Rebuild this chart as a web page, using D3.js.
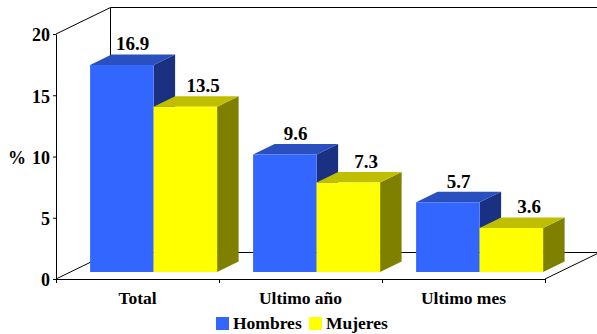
<!DOCTYPE html>
<html>
<head>
<meta charset="utf-8">
<script src="https://cdn.jsdelivr.net/npm/d3@7"></script>
<style>
  html, body { margin: 0; padding: 0; background: #fff; overflow: hidden; }
  svg { display: block; }
  svg text { font-family: "Liberation Serif", "Times New Roman", serif; font-weight: bold; fill: #000; }
</style>
</head>
<body>
<div id="chart"></div>
<script>
var width = 597,
    height = 334;

// Prevalence by period
var categories = ["Total", "Ultimo año", "Ultimo mes"];
var seriesNames = ["Hombres", "Mujeres"];
var hombres = [16.9, 9.6, 5.7];
var mujeres = [13.5, 7.3, 3.6];
var yTicks = [0, 5, 10, 15, 20];

var seriesValues = [hombres, mujeres];

var frontColor = ["#3366ff", "#ffff00"],
    topColor = ["#2a50c0", "#bfbf00"],
    sideColor = ["#1a3080", "#808000"];

// Floor and wall depth of the fake 3d box
var wallDx = 54.5, wallDy = -26.5;
// Bars sit part way into the box and have their own depth
var barShiftX = 14.1, barShiftY = -7;
var barDx = 21.5, barDy = -10.5;

var y = d3.scaleLinear().domain([0, 20]).range([279, 34]);
var x = d3.scaleBand().domain(categories).range([56, 545]);
var xEdges = d3.scaleLinear().domain([0, categories.length]).range([56, 545]);
var xSeries = d3.scaleBand().domain([0, 1]).range([20, 147]);

var svg = d3.select("#chart").append("svg")
    .attr("width", width)
    .attr("height", height);

/*
-----------------BOX-----------------
*/

var wallLine = d3.line();
var x0 = x.range()[0], x1 = x.range()[1];

var boxLines = [
  [[x0, y(20)], [x0 + wallDx, y(20) + wallDy], [x1 + wallDx, y(20) + wallDy]],
  [[x0 + wallDx, y(20) + wallDy], [x0 + wallDx, y(0) + wallDy], [x1 + wallDx, y(0) + wallDy]],
  [[x0, y(0)], [x0 + wallDx, y(0) + wallDy]],
  [[x1, y(0)], [x1 + wallDx, y(0) + wallDy]]
];

svg.append("g").selectAll("path")
    .data(boxLines)
  .enter().append("path")
    .attr("d", wallLine)
    .attr("fill", "none")
    .attr("stroke", "#000")
    .attr("stroke-width", 1);

/*
-----------------BARS-----------------
*/

var bars = [];
categories.forEach(function(c, i) {
  seriesValues.forEach(function(values, s) {
    bars.push({category: c, series: s, value: values[i]});
  });
});

var polyLine = d3.line();

function face(pts) { return polyLine(pts) + "Z"; }

var barGroups = svg.append("g").selectAll("g")
    .data(bars)
  .enter().append("g");

barGroups.each(function(d) {
  var left = x(d.category) + xSeries(d.series) + barShiftX,
      right = left + xSeries.bandwidth(),
      top = y(d.value) + barShiftY,
      bottom = y(0) + barShiftY;
  var g = d3.select(this);

  g.append("path")
      .attr("d", face([[right, top], [right + barDx, top + barDy], [right + barDx, bottom + barDy], [right, bottom]]))
      .attr("fill", sideColor[d.series]);
  g.append("path")
      .attr("d", face([[left, top], [left + barDx, top + barDy], [right + barDx, top + barDy], [right, top]]))
      .attr("fill", topColor[d.series]);
  g.append("path")
      .attr("d", face([[left, top], [right, top], [right, bottom], [left, bottom]]))
      .attr("fill", frontColor[d.series]);
});

// Value labels over the top faces, yellow ones pushed a bit to the right
barGroups.append("text")
    .attr("x", function(d) {
      return x(d.category) + xSeries(d.series) + barShiftX + xSeries.bandwidth() / 2 + barDx / 2 + (d.series == 1 ? 7 : 0);
    })
    .attr("y", function(d) { return y(d.value) + barShiftY + barDy - 4; })
    .attr("text-anchor", "middle")
    .style("font-size", "19px")
    .text(function(d) { return d.value.toFixed(1); });

/*
-----------------AXES-----------------
*/

var yAxis = svg.append("g")
    .attr("transform", "translate(" + x0 + ",0)")
    .call(d3.axisLeft(y).tickValues(yTicks).tickSize(3).tickPadding(3).tickSizeOuter(0));

yAxis.selectAll("text")
    .style("font-size", "18px")
    .attr("dy", "0.38em");

var xTicks = svg.append("g")
    .attr("transform", "translate(0," + y(0) + ")")
    .call(d3.axisBottom(xEdges).ticks(categories.length).tickSize(4).tickSizeOuter(0).tickFormat(""));

var xLabels = svg.append("g")
    .attr("transform", "translate(0," + y(0) + ")")
    .call(d3.axisBottom(x).tickSize(0).tickPadding(13));

xLabels.select(".domain").remove();
xLabels.selectAll("text").style("font-size", "17.5px");

svg.selectAll(".domain, .tick line")
    .attr("stroke", "#000")
    .attr("stroke-width", 1);

svg.append("text")
    .attr("x", 17)
    .attr("y", 164)
    .attr("text-anchor", "middle")
    .style("font-size", "18px")
    .text("%");

/*
-----------------LEGEND-----------------
*/

var legendX = d3.scaleOrdinal().domain(seriesNames).range([216, 309]);

var legend = svg.append("g").selectAll("g")
    .data(seriesNames)
  .enter().append("g")
    .attr("transform", function(d) { return "translate(" + legendX(d) + ",317)"; });

legend.append("rect")
    .attr("width", 13)
    .attr("height", 13)
    .attr("fill", function(d, i) { return frontColor[i]; });

legend.append("text")
    .attr("x", 17)
    .attr("y", 12)
    .style("font-size", "17.5px")
    .text(function(d) { return d; });
</script>
</body>
</html>
